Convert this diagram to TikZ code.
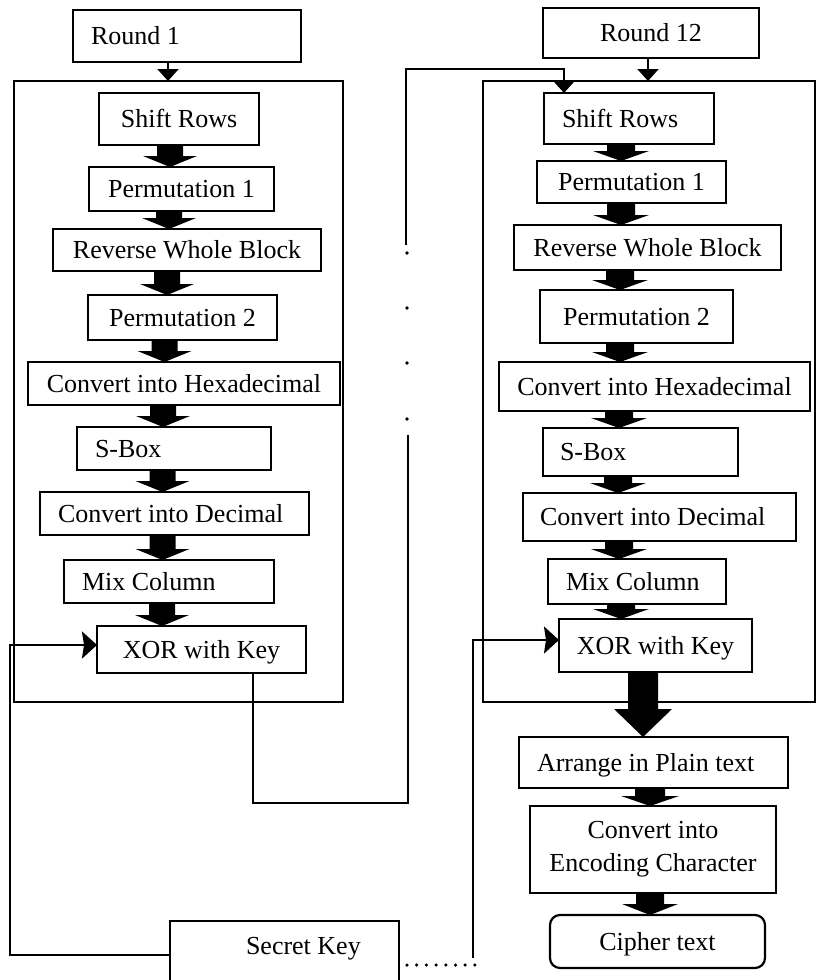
\documentclass[tikz,border=0pt]{standalone}
\usepackage{fontspec}
\setmainfont{Liberation Serif}
\usetikzlibrary{calc,arrows.meta}
\newcommand\offt[3]{\makebox[#1pt][l]{\hspace*{#2pt}#3}}
\newcommand\fatarrow[6]{%
  \fill let \p1=(#1.south), \p2=(#2.north) in
   (#3pt-#4pt,\y1) -- (#3pt+#4pt,\y1) -- (#3pt+#4pt,\y2+#6pt) -- (#3pt+#5pt,\y2+#6pt)
   -- (#3pt,\y2) -- (#3pt-#5pt,\y2+#6pt) -- (#3pt-#4pt,\y2+#6pt) -- cycle;}
\tikzset{
  box/.style={draw, line width=2.2pt, inner sep=0pt, outer sep=0pt, text height=17pt, text depth=0pt},
  boxtwo/.style={draw, line width=2.2pt, inner sep=0pt, outer sep=0pt, align=center},
  tarrow/.style={line width=2.2pt, -{Triangle[width=21pt,length=12pt]}},
  karrow/.style={line width=2.2pt, -{Stealth[width=27pt,length=15pt,inset=2pt]}},
  conn/.style={line width=2.2pt},
  dotline/.style={line width=3.5pt, line cap=round, dash pattern=on 0pt off 9.7pt},
}
\begin{document}
\begin{tikzpicture}[x=1pt,y=-1pt,font=\fontsize{26}{33}\selectfont]
\useasboundingbox (0,0) rectangle (821,980);
\clip (0,0) rectangle (821,980);
% ---------- left round ----------
\node[box, minimum width=228pt, minimum height=52pt] (R1) at (187,36) {\offt{228}{18}{Round 1}};
\node[box, minimum width=329pt, minimum height=621pt] (outerL) at (178.5,391.5) {};
\node[box, minimum width=160pt, minimum height=52pt] (SRL) at (179,119) {Shift Rows};
\node[box, minimum width=185pt, minimum height=44pt] (P1L) at (181.5,189) {Permutation 1};
\node[box, minimum width=268pt, minimum height=42pt] (RWBL) at (187,250) {Reverse Whole Block};
\node[box, minimum width=189pt, minimum height=45pt] (P2L) at (182.5,317.5) {Permutation 2};
\node[box, minimum width=312pt, minimum height=43pt] (HexL) at (184,383.5) {Convert into Hexadecimal};
\node[box, minimum width=194pt, minimum height=43pt] (SBL) at (174,448.5) {\offt{194}{18}{S-Box}};
\node[box, minimum width=269pt, minimum height=43pt] (DecL) at (174.5,513.5) {\offt{269}{18}{Convert into Decimal}};
\node[box, minimum width=210pt, minimum height=43pt] (MixL) at (169,581.5) {\offt{210}{18}{Mix Column}};
\node[box, minimum width=209pt, minimum height=47pt] (XORL) at (201.5,649.5) {XOR with Key};
% ---------- right round ----------
\node[box, minimum width=216pt, minimum height=50pt] (R12) at (651,33) {Round 12};
\node[box, minimum width=332pt, minimum height=621pt] (outerR) at (649,391.5) {};
\node[box, minimum width=170pt, minimum height=51pt] (SRR) at (629,118.5) {\offt{170}{18}{Shift Rows}};
\node[box, minimum width=189pt, minimum height=42pt] (P1R) at (631.5,182) {Permutation 1};
\node[box, minimum width=267pt, minimum height=45pt] (RWBR) at (647.5,247.5) {Reverse Whole Block};
\node[box, minimum width=193pt, minimum height=53pt] (P2R) at (636.5,316.5) {Permutation 2};
\node[box, minimum width=311pt, minimum height=49pt] (HexR) at (654.5,386.5) {Convert into Hexadecimal};
\node[box, minimum width=195pt, minimum height=48pt] (SBR) at (640.5,452) {\offt{195}{17}{S-Box}};
\node[box, minimum width=273pt, minimum height=48pt] (DecR) at (659.5,517) {\offt{273}{17}{Convert into Decimal}};
\node[box, minimum width=178pt, minimum height=45pt] (MixR) at (637,581.5) {\offt{178}{18}{Mix Column}};
\node[box, minimum width=193pt, minimum height=53pt] (XORR) at (655.5,645.5) {XOR with Key};
\node[box, minimum width=269pt, minimum height=51pt] (Arr) at (653.5,762.5) {\offt{269}{18}{Arrange in Plain text}};
\node[boxtwo, minimum width=246pt, minimum height=87pt] (Enc) at (653,849.5) {Convert into\\Encoding Character};
\node[box, rounded corners=10pt, minimum width=215pt, minimum height=53pt] (Cip) at (657.5,941.5) {Cipher text};
\node[box, minimum width=229pt, minimum height=68pt] (SK) at (284.5,955) {\offt{229}{76}{\raisebox{9.5pt}{Secret Key}}};
% ---------- fat arrows ----------
\fatarrow{SRL}{P1L}{170}{13}{27}{11}
\fatarrow{P1L}{RWBL}{169}{13}{27}{11}
\fatarrow{RWBL}{P2L}{167}{13}{27}{11}
\fatarrow{P2L}{HexL}{164.5}{13}{27}{11}
\fatarrow{HexL}{SBL}{163}{13}{27}{11}
\fatarrow{SBL}{DecL}{162.5}{13}{27}{11}
\fatarrow{DecL}{MixL}{162.5}{13}{27}{11}
\fatarrow{MixL}{XORL}{162}{13}{27}{11}
\fatarrow{SRR}{P1R}{621}{14}{28}{10}
\fatarrow{P1R}{RWBR}{621}{14}{28}{10}
\fatarrow{RWBR}{P2R}{620}{14}{28}{10}
\fatarrow{P2R}{HexR}{620}{14}{28}{10}
\fatarrow{HexR}{SBR}{619}{14}{28}{10}
\fatarrow{SBR}{DecR}{618}{14}{28}{10}
\fatarrow{DecR}{MixR}{619}{14}{28}{10}
\fatarrow{MixR}{XORR}{621}{14}{28}{10}
\fatarrow{XORR}{Arr}{643}{15}{29}{28}
\fatarrow{Arr}{Enc}{650}{15}{29}{10}
\fatarrow{Enc}{Cip}{650}{14}{28}{11}
% ---------- thin arrows ----------
\coordinate (ax1) at (168,0);
\coordinate (ax2) at (648,0);
\draw[tarrow] (R1.south -| ax1) -- (outerL.north -| ax1);
\draw[tarrow] (R12.south -| ax2) -- (outerR.north -| ax2);
% loop from round 1 to round 12
\coordinate (loopx) at (253,803);
\coordinate (gapb) at (408,435);
\coordinate (gapt) at (406,245);
\coordinate (looptop) at (564,69);
\draw[conn] (XORL.south -| loopx) -- (loopx) -- (gapb |- loopx) -- (gapb);
\draw[tarrow] (gapt) |- (looptop) -- (looptop |- SRR.north);
\foreach \yy in {253,308,363,419} \fill (407,\yy) circle (1.8pt);
% secret key connections
\coordinate (skc) at (10,645);
\draw[karrow] (SK.west) -| (skc) -- (XORL.west |- skc);
\coordinate (dotB) at (475,965);
\coordinate (skrb) at (473,958);
\coordinate (skr) at (473,640);
\draw[dotline] ($(SK.east |- dotB)+(8,0)$) -- (dotB);
\draw[karrow] (skrb) -- (skr) -- (XORR.west |- skr);
\end{tikzpicture}
\end{document}
